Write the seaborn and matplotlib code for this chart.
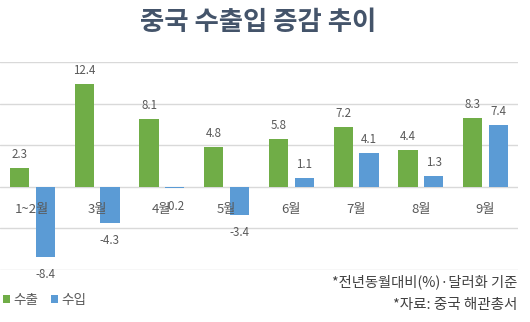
import matplotlib
matplotlib.use("Agg")
import matplotlib.pyplot as plt
import seaborn as sns
import pandas as pd

# ---- data ----
months = ["1~2월", "3월", "4월", "5월", "6월", "7월", "8월", "9월"]
exports = [2.3, 12.4, 8.1, 4.8, 5.8, 7.2, 4.4, 8.3]
imports = [-8.4, -4.3, -0.2, -3.4, 1.1, 4.1, 1.3, 7.4]
series_names = ["수출", "수입"]
title = "중국 수출입 증감 추이"
note1 = "*전년동월대비(%)·달러화 기준"
note2 = "*자료: 중국 해관총서"

df = pd.DataFrame({
    "month": months * 2,
    "value": exports + imports,
    "series": [series_names[0]] * len(months) + [series_names[1]] * len(months),
})

sns.set_theme(style="white")
plt.rcParams["font.family"] = ["Noto Sans CJK KR", "DejaVu Sans"]

GREEN = "#70ad47"
BLUE = "#5b9bd5"
GRID = "#d9d9d9"
TXT = "#595959"

fig = plt.figure(figsize=(5.30, 3.22), dpi=100)
ax = fig.add_axes([0.0, 1 - 270 / 322, 518 / 530, 208 / 322])

sns.barplot(data=df, x="month", y="value", hue="series", order=months,
            hue_order=series_names, palette=[GREEN, BLUE], width=0.79,
            gap=0.25, ax=ax, saturation=1, edgecolor="none", legend=True)

ax.set_ylim(-10, 15)
ax.set_xlim(-0.5, len(months) - 0.5)
ax.set_yticks([-10, -5, 0, 5, 10, 15])
ax.yaxis.grid(True, color=GRID, lw=1)
ax.set_axisbelow(True)
for s in ax.spines.values():
    s.set_visible(False)
ax.set_xticks([])
ax.set_yticklabels([])
ax.tick_params(left=False, bottom=False)
ax.set_xlabel("")
ax.set_ylabel("")

# value labels
for cont in ax.containers:
    for bar in cont:
        v = bar.get_height()
        x = bar.get_x() + bar.get_width() / 2
        if v >= 0:
            ax.annotate(f"{v:.1f}", (x, v), xytext=(0, 5), textcoords="offset points",
                        ha="center", va="bottom", fontsize=8.3, color=TXT, zorder=5)
        else:
            ax.annotate(f"{v:.1f}", (x, v), xytext=(0, -8), textcoords="offset points",
                        ha="center", va="top", fontsize=8.3, color=TXT, zorder=5)

# category labels (drawn above bars, below zero line)
for i, m in enumerate(months):
    ax.annotate(m, (i, 0), xytext=(0, -16), textcoords="offset points",
                ha="center", va="center", fontsize=9.5, color=TXT, zorder=6)

sns.move_legend(ax, loc="center left", bbox_to_anchor=(0.0, -0.144), ncol=2,
                frameon=False, title=None, fontsize=9.8, handlelength=0.55,
                handleheight=0.55, handletextpad=0.25, columnspacing=0.9,
                borderaxespad=0, borderpad=0.2, labelcolor=TXT)

fig.text(258 / 530, 1 - 22 / 322, title, ha="center", va="center",
         fontsize=19, fontweight="bold", color="#44546a")
fig.text(517 / 530, 1 - 282 / 322, note1, ha="right", va="center",
         fontsize=10.3, color="#404040")
fig.text(517 / 530, 1 - 305 / 322, note2, ha="right", va="center",
         fontsize=10.5, color="#404040")

fig.savefig("out.png", dpi=100)
